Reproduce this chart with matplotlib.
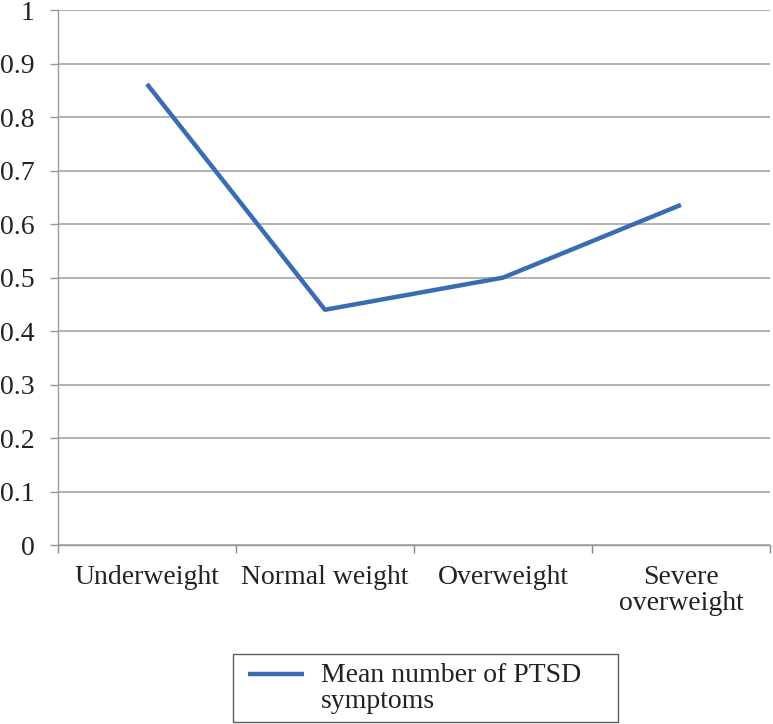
import matplotlib
matplotlib.use("Agg")
import matplotlib.pyplot as plt
from matplotlib.legend_handler import HandlerLine2D
import numpy as np

categories = ["Underweight", "Normal weight", "Overweight", "Severe\noverweight"]
mean_ptsd = [0.862, 0.44, 0.50, 0.636]
y_ticks = [0, 0.1, 0.2, 0.3, 0.4, 0.5, 0.6, 0.7, 0.8, 0.9, 1]
y_labels = ["0", "0.1", "0.2", "0.3", "0.4", "0.5", "0.6", "0.7", "0.8", "0.9", "1"]

plt.rcParams["font.family"] = ["Liberation Serif", "DejaVu Serif"]


class FirstLineHandler(HandlerLine2D):
    # put the legend line next to the first text line, shifted right a bit
    def create_artists(self, legend, orig_handle, xdescent, ydescent,
                       width, height, fontsize, trans):
        arts = super().create_artists(legend, orig_handle, xdescent, ydescent,
                                      width, height, fontsize, trans)
        for a in arts:
            a.set_ydata(np.asarray(a.get_ydata()) + 0.5 * fontsize)
            a.set_xdata(np.asarray(a.get_xdata()) + 0.25 * fontsize)
        return arts


fig = plt.figure(figsize=(7.73, 7.24), dpi=100)
ax = fig.add_axes([0.075, 0.247, 0.921, 0.739])

x = np.arange(len(categories))
line, = ax.plot(x, mean_ptsd, color="#3A6CB4", lw=3.2,
                solid_capstyle="butt", label="Mean number of PTSD\nsymptoms")

ax.set_xlim(-0.5, len(categories) - 0.5)
ax.set_ylim(0, 1)
ax.set_yticks(y_ticks)
ax.set_yticklabels(y_labels, fontsize=20, color="#222222")
ax.set_xticks(x)
ax.set_xticklabels(categories, fontsize=20, color="#222222", linespacing=1.05)
ax.set_xticks(np.arange(len(categories) + 1) - 0.5, minor=True)
ax.tick_params(axis="x", which="major", length=0, pad=14)
ax.tick_params(axis="x", which="minor", length=6, color="#888888", width=1)
ax.tick_params(axis="y", length=6, color="#999999", width=1, pad=11)

ax.yaxis.grid(True, color="#a6a6a6", lw=1.2)
ax.set_axisbelow(True)
for side in ["top", "right"]:
    ax.spines[side].set_visible(False)
for side in ["left", "bottom"]:
    ax.spines[side].set_color("#999999")
    ax.spines[side].set_linewidth(1)

leg = fig.legend(handles=[line], loc="lower left",
                 bbox_to_anchor=(233 / 773, 2 / 724, 385 / 773, 72 / 724),
                 mode="expand", fontsize=20, fancybox=False, frameon=True,
                 handlelength=2.0, handletextpad=0.85, borderaxespad=0,
                 borderpad=0.3, handler_map={line: FirstLineHandler()})
leg.get_frame().set_edgecolor("#333333")
leg.get_frame().set_linewidth(1)
for t in leg.get_texts():
    t.set_color("#222222")
    t.set_linespacing(1.05)

fig.savefig("out.png", dpi=100)
